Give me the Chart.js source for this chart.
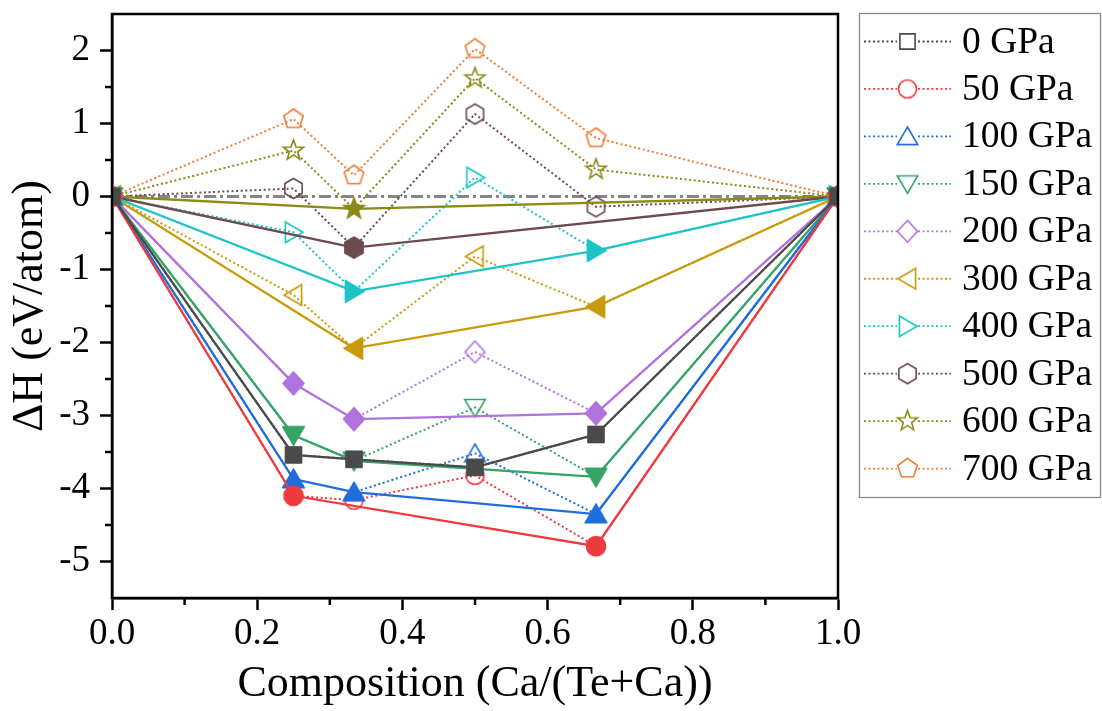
<!DOCTYPE html>
<html>
<head>
<meta charset="utf-8">
<title>Formation enthalpy of Ca-Te</title>
<script src="https://cdn.jsdelivr.net/npm/chart.js@4.4.0/dist/chart.umd.min.js"></script>
<style>
  html, body { margin: 0; padding: 0; background: #ffffff; }
  #wrap { width: 1102px; height: 711px; }
</style>
</head>
<body>
<div id="wrap"><canvas id="hullChart" width="1102" height="711"></canvas></div>
<script>
// composition x = Ca/(Te+Ca)
const COMPOSITION = [0, 0.25, 1 / 3, 0.5, 2 / 3, 1];

const PRESSURES = ['0 GPa', '50 GPa', '100 GPa', '150 GPa', '200 GPa',
                   '300 GPa', '400 GPa', '500 GPa', '600 GPa', '700 GPa'];

// formation enthalpy (eV/atom), one array per pressure
const DH_0   = [0, -3.54, -3.60, -3.71, -3.26, 0];
const DH_50  = [0, -4.10, -4.16, -3.82, -4.79, 0];
const DH_100 = [0, -3.87, -4.05, -3.52, -4.35, 0];
const DH_150 = [0, -3.27, -3.62, -2.89, -3.84, 0];
const DH_200 = [0, -2.56, -3.05, -2.13, -2.97, 0];
const DH_300 = [0, -1.35, -2.08, -0.82, -1.51, 0];
const DH_400 = [0, -0.49, -1.30, 0.26, -0.74, 0];
const DH_500 = [0, 0.11, -0.70, 1.13, -0.14, 0];
const DH_600 = [0, 0.63, -0.17, 1.62, 0.37, 0];
const DH_700 = [0, 1.06, 0.29, 2.02, 0.80, 0];

// indices (into COMPOSITION) of the stable phases on the convex hull
const STABLE_0   = [0, 1, 2, 3, 4, 5];
const STABLE_50  = [0, 1, 4, 5];
const STABLE_100 = [0, 1, 2, 4, 5];
const STABLE_150 = [0, 1, 2, 4, 5];
const STABLE_200 = [0, 1, 2, 4, 5];
const STABLE_300 = [0, 2, 4, 5];
const STABLE_400 = [0, 2, 4, 5];
const STABLE_500 = [0, 2, 5];
const STABLE_600 = [0, 2, 5];
const STABLE_700 = [];

const ZERO_LINE = [0, 0];   // reference at x = 0 and x = 1

const X_TICKS = [0, 0.2, 0.4, 0.6, 0.8, 1.0];
const X_MINOR = [0.1, 0.3, 0.5, 0.7, 0.9];
const Y_TICKS = [-5, -4, -3, -2, -1, 0, 1, 2];
const Y_MINOR = [-4.5, -3.5, -2.5, -1.5, -0.5, 0.5, 1.5];

const ENTHALPY = [DH_0, DH_50, DH_100, DH_150, DH_200, DH_300, DH_400, DH_500, DH_600, DH_700];
const STABLE = [STABLE_0, STABLE_50, STABLE_100, STABLE_150, STABLE_200,
                STABLE_300, STABLE_400, STABLE_500, STABLE_600, STABLE_700];

const COLORS = ['#4a4a4a', '#ee3a3e', '#1f6ddc', '#36a468', '#b072dc',
                '#c89a0c', '#1cc4c6', '#6d4a4e', '#8a8a14', '#f07c36'];
const SHAPES = ['square', 'circle', 'triUp', 'triDown', 'diamond',
                'triLeft', 'triRight', 'hexagon', 'star', 'pentagon'];

const FONT = '"Liberation Serif", "Times New Roman", serif';

// --- marker drawing -------------------------------------------------------
function polygon(ctx, n, r, rot) {
  for (let i = 0; i < n; i++) {
    const a = rot + i * 2 * Math.PI / n;
    const px = r * Math.cos(a), py = r * Math.sin(a);
    if (i === 0) ctx.moveTo(px, py); else ctx.lineTo(px, py);
  }
}

function tracePath(ctx, shape, r) {
  switch (shape) {
    case 'square': ctx.rect(-0.8 * r, -0.8 * r, 1.6 * r, 1.6 * r); break;
    case 'circle': ctx.arc(0, 0, 0.95 * r, 0, Math.PI * 2); break;
    case 'triUp':
      ctx.moveTo(0, -1.0 * r); ctx.lineTo(1.08 * r, 0.85 * r); ctx.lineTo(-1.08 * r, 0.85 * r); break;
    case 'triDown':
      ctx.moveTo(0, 1.0 * r); ctx.lineTo(1.08 * r, -0.85 * r); ctx.lineTo(-1.08 * r, -0.85 * r); break;
    case 'triLeft':
      ctx.moveTo(-1.0 * r, 0); ctx.lineTo(0.85 * r, -1.08 * r); ctx.lineTo(0.85 * r, 1.08 * r); break;
    case 'triRight':
      ctx.moveTo(1.0 * r, 0); ctx.lineTo(-0.85 * r, -1.08 * r); ctx.lineTo(-0.85 * r, 1.08 * r); break;
    case 'diamond':
      ctx.moveTo(0, -1.15 * r); ctx.lineTo(1.05 * r, 0); ctx.lineTo(0, 1.15 * r); ctx.lineTo(-1.05 * r, 0); break;
    case 'hexagon': polygon(ctx, 6, 1.05 * r, -Math.PI / 2); break;
    case 'pentagon': polygon(ctx, 5, 1.08 * r, -Math.PI / 2); break;
    case 'star':
      for (let i = 0; i < 10; i++) {
        const a = -Math.PI / 2 + i * Math.PI / 5;
        const rr = i % 2 === 0 ? 1.12 * r : 0.46 * r;
        if (i === 0) ctx.moveTo(rr * Math.cos(a), rr * Math.sin(a));
        else ctx.lineTo(rr * Math.cos(a), rr * Math.sin(a));
      }
      break;
  }
  ctx.closePath();
}

function makeMarker(shape, color, filled, r) {
  const size = Math.ceil(2 * r * 1.2 + 4);
  const c = document.createElement('canvas');
  c.width = size; c.height = size;
  const ctx = c.getContext('2d');
  ctx.translate(size / 2, size / 2);
  ctx.beginPath();
  tracePath(ctx, shape, r);
  if (filled) {
    ctx.fillStyle = color;
    ctx.fill();
  } else {
    ctx.strokeStyle = color;
    ctx.lineWidth = 1.6;
    ctx.stroke();
  }
  return c;
}

const OPEN_MARKERS = SHAPES.map((s, i) => makeMarker(s, COLORS[i], false, 9.5));
const FILLED_MARKERS = SHAPES.map((s, i) => makeMarker(s, COLORS[i], true, 10.8));

// --- datasets -------------------------------------------------------------
function toPoints(values) {
  return values.map((v, i) => ({ x: COMPOSITION[i], y: v }));
}

const datasets = [];
PRESSURES.forEach((p, i) => {
  if (STABLE[i].length) {
    datasets.push({
      label: p + ' hull',
      data: STABLE[i].map(k => ({ x: COMPOSITION[k], y: ENTHALPY[i][k] })),
      borderColor: COLORS[i],
      backgroundColor: COLORS[i],
      borderWidth: 2.3,
      pointStyle: FILLED_MARKERS[i],
      pointRadius: 10,
      order: 0,
      clip: 0
    });
  }
});
PRESSURES.forEach((p, i) => {
  datasets.push({
    label: p,
    data: toPoints(ENTHALPY[i]),
    borderColor: COLORS[i],
    backgroundColor: COLORS[i],
    borderWidth: 2,
    borderDash: [2, 2.6],
    pointStyle: OPEN_MARKERS[i],
    pointRadius: 10,
    order: 1,
    clip: 0
  });
});
datasets.push({
  label: 'zero',
  data: ZERO_LINE.map((v, i) => ({ x: i, y: v })),
  borderColor: '#858585',
  borderWidth: 2.8,
  borderDash: [12, 4, 3, 4],
  pointRadius: 0,
  order: 2,
  clip: 0
});

// --- plugins --------------------------------------------------------------
const frameAndMinorTicks = {
  id: 'frameAndMinorTicks',
  afterDraw(chart) {
    const { ctx, chartArea: a, scales: { x, y } } = chart;
    ctx.save();
    ctx.strokeStyle = '#000';
    ctx.lineWidth = 2.5;
    ctx.strokeRect(a.left, a.top, a.right - a.left, a.bottom - a.top);
    ctx.beginPath();
    X_MINOR.forEach(v => {
      const px = x.getPixelForValue(v);
      ctx.moveTo(px, a.bottom); ctx.lineTo(px, a.bottom + 7);
    });
    Y_MINOR.forEach(v => {
      const py = y.getPixelForValue(v);
      ctx.moveTo(a.left, py); ctx.lineTo(a.left - 7, py);
    });
    ctx.stroke();
    ctx.restore();
  }
};

const sideLegend = {
  id: 'sideLegend',
  afterDraw(chart) {
    const ctx = chart.ctx;
    ctx.save();
    ctx.strokeStyle = '#8a8a8a';
    ctx.lineWidth = 1.3;
    ctx.strokeRect(859.5, 13.5, 241, 484);
    ctx.font = '37.5px ' + FONT;
    ctx.textBaseline = 'alphabetic';
    ctx.textAlign = 'left';
    PRESSURES.forEach((p, i) => {
      const cy = 41.5 + i * 47.45;
      ctx.strokeStyle = COLORS[i];
      ctx.lineWidth = 1.8;
      ctx.setLineDash([2, 2.5]);
      ctx.beginPath();
      ctx.moveTo(864, cy); ctx.lineTo(897, cy);
      ctx.moveTo(918, cy); ctx.lineTo(951, cy);
      ctx.stroke();
      ctx.setLineDash([]);
      const m = OPEN_MARKERS[i];
      ctx.drawImage(m, 907.5 - m.width / 2, cy - m.height / 2);
      ctx.fillStyle = '#000';
      ctx.fillText(p, 962, cy + 11);
    });
    ctx.restore();
  }
};

// --- chart ----------------------------------------------------------------
function fixBox(size, horizontal) {
  return function (scale) {
    if (horizontal) scale.height = size; else scale.width = size;
    scale.paddingTop = 0; scale.paddingBottom = 0;
    scale.paddingLeft = 0; scale.paddingRight = 0;
  };
}

new Chart(document.getElementById('hullChart').getContext('2d'), {
  type: 'line',
  data: { datasets: datasets },
  options: {
    responsive: false,
    animation: false,
    devicePixelRatio: 1,
    layout: { padding: { left: 0, top: 14, right: 264, bottom: 0 } },
    plugins: { legend: { display: false }, tooltip: { enabled: false } },
    scales: {
      x: {
        type: 'linear',
        min: 0,
        max: 1,
        afterBuildTicks: s => { s.ticks = X_TICKS.map(v => ({ value: v })); },
        afterFit: fixBox(113, true),
        grid: { drawOnChartArea: false, tickLength: 12, tickWidth: 2.5, tickColor: '#000' },
        border: { display: true, color: '#000', width: 2.5 },
        ticks: {
          color: '#000',
          font: { family: FONT, size: 37 },
          padding: 2,
          maxRotation: 0,
          callback: v => v.toFixed(1)
        },
        title: {
          display: true,
          text: 'Composition (Ca/(Te+Ca))',
          color: '#000',
          font: { family: FONT, size: 44 },
          padding: { top: 0, bottom: 0 }
        }
      },
      y: {
        type: 'linear',
        min: -5.5,
        max: 2.5,
        afterBuildTicks: s => { s.ticks = Y_TICKS.map(v => ({ value: v })); },
        afterFit: fixBox(112, false),
        grid: { drawOnChartArea: false, tickLength: 12, tickWidth: 2.5, tickColor: '#000' },
        border: { display: true, color: '#000', width: 2.5 },
        ticks: {
          color: '#000',
          font: { family: FONT, size: 37 },
          padding: 10,
          callback: v => String(v)
        },
        title: {
          display: true,
          text: 'ΔH (eV/atom)',
          color: '#000',
          font: { family: FONT, size: 44 },
          padding: { top: 4, bottom: 0 }
        }
      }
    }
  },
  plugins: [frameAndMinorTicks, sideLegend]
});
</script>
</body>
</html>
